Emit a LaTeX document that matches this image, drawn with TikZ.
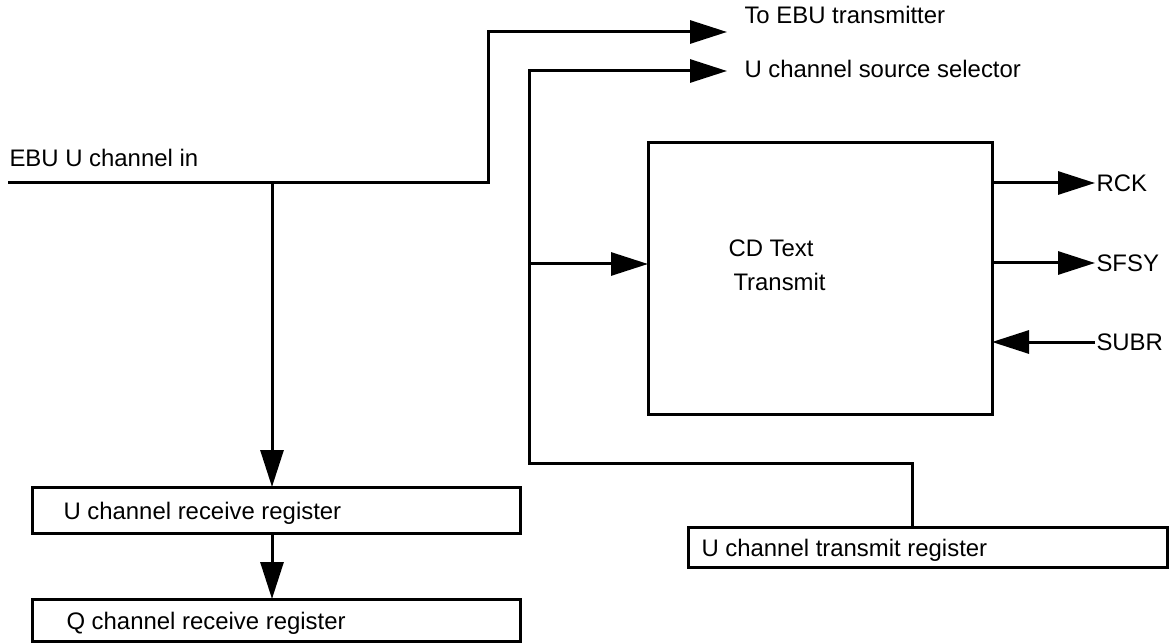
\documentclass[tikz,border=0pt]{standalone}
\usepackage{fontspec}
\setmainfont{Liberation Sans}
\usetikzlibrary{arrows.meta}
\begin{document}
\begin{tikzpicture}[x=1bp,y=-1bp, line width=3bp,
  arr/.style={-{Triangle[length=37bp,width=23bp]}},
  box/.style={draw, rectangle, outer sep=0pt, inner sep=0pt, anchor=north west},
  lbl/.style={inner sep=0pt, anchor=west, font=\fontsize{24}{28}\selectfont}]
\useasboundingbox (0,0) rectangle (1169,644);
% boxes
\node[box, minimum width=344bp, minimum height=271bp] (cd) at (648,143) {};
\node[box, minimum width=488bp, minimum height=46bp] (urx) at (32,487) {};
\node[box, minimum width=488bp, minimum height=42.5bp] (qrx) at (32,599) {};
\node[box, minimum width=479.5bp, minimum height=40bp] (utx) at (688,527) {};
% box texts
\node[lbl] (cdt1) at (727,248) {CD Text};
\node[lbl] (cdt2) at (732,282) {Transmit};
\node[lbl, yshift=-3bp] (urxt) at ([xshift=30bp]urx.west) {U channel receive register};
\node[lbl, yshift=-3bp] (qrxt) at ([xshift=33bp]qrx.west) {Q channel receive register};
\node[lbl, yshift=-3bp] (utxt) at ([xshift=12bp]utx.west) {U channel transmit register};
% labels
\node[lbl] (tebu) at (743,15) {To EBU transmitter};
\node[lbl] (usel) at (743,69) {U channel source selector};
\node[lbl] (ebuin) at (8,158) {EBU U channel in};
\node[lbl] (rck) at (1095,183) {RCK};
\node[lbl] (sfsy) at (1095,263) {SFSY};
\node[lbl] (subr) at (1095,342) {SUBR};
% coordinates
\coordinate (in) at (8,183);
\coordinate (tip1) at (727,32);
\coordinate (tip2) at (727,71);
\coordinate (j1) at (272,183);
\coordinate (j2) at (529,264);
% connectors
\draw[arr] (in) -- (488,183) |- (tip1);
\draw[arr] (j1) -- (j1 |- urx.north);
\draw[arr] (j1 |- urx.south) -- (j1 |- qrx.north);
\draw[arr] ([xshift=224bp]utx.north west) |- (529,463) |- (tip2);
\draw[arr] (j2) -- (j2 -| cd.west);
\draw[arr] (cd.east |- rck.west) -- (rck.west);
\draw[arr] (cd.east |- sfsy.west) -- (sfsy.west);
\draw[arr] (subr.west) -- (subr.west -| cd.east);
\end{tikzpicture}
\end{document}
